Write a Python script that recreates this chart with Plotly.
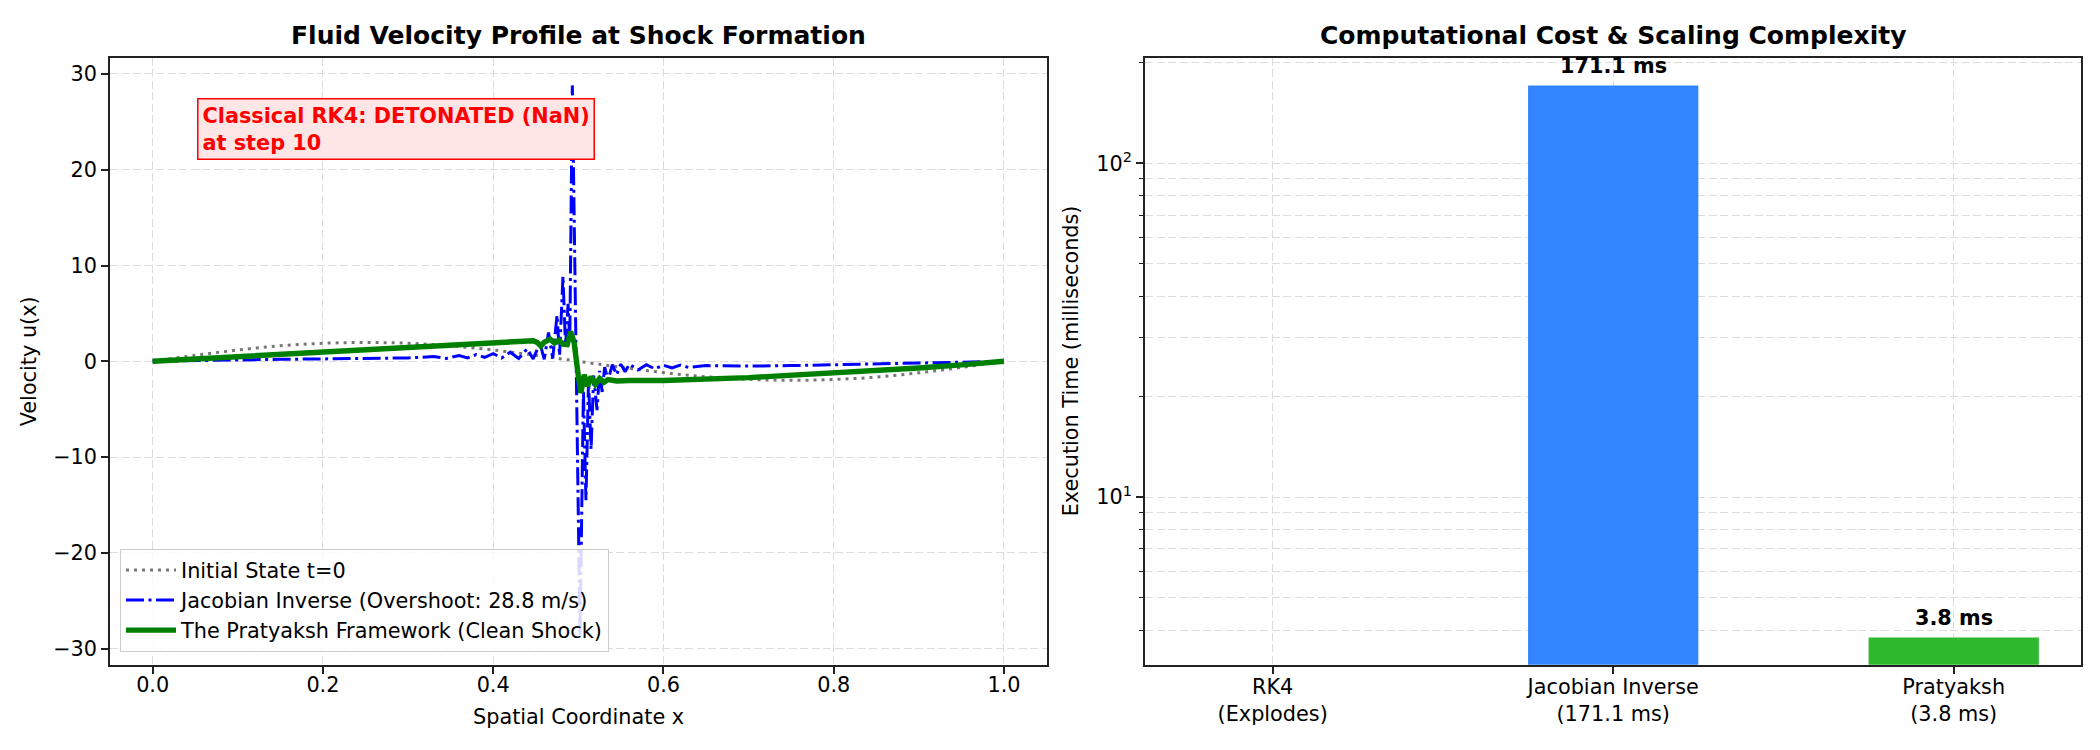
import math
import plotly.graph_objects as go

# ---------------- data ----------------
x_initial = [0.0, 0.05, 0.1, 0.15, 0.2, 0.25, 0.3, 0.35, 0.4, 0.45, 0.5,
             0.55, 0.6, 0.65, 0.7, 0.75, 0.8, 0.85, 0.9, 0.95, 1.0]
u_initial = [0.0, 0.62, 1.18, 1.62, 1.88, 1.96, 1.88, 1.62, 1.18, 0.62, 0.0,
             -0.62, -1.18, -1.62, -1.88, -1.98, -1.9, -1.65, -1.2, -0.64, 0.0]

x_jacobian = [0.0, 0.05, 0.1, 0.15, 0.2, 0.25, 0.3, 0.33, 0.345, 0.36, 0.37, 0.38,
              0.39, 0.4, 0.41, 0.42, 0.43, 0.44, 0.447, 0.455, 0.46, 0.465, 0.47,
              0.475, 0.478, 0.482, 0.485, 0.488, 0.49, 0.493, 0.497, 0.502, 0.506,
              0.509, 0.512, 0.515, 0.518, 0.522, 0.525, 0.528, 0.531, 0.535, 0.54,
              0.545, 0.55, 0.555, 0.56, 0.57, 0.58, 0.59, 0.6, 0.61, 0.62, 0.63,
              0.65, 0.7, 0.75, 0.8, 0.85, 0.9, 0.95, 1.0]
u_jacobian = [0.0, 0.08, 0.17, 0.21, 0.25, 0.3, 0.35, 0.5, 0.3, 0.6, 0.35, 0.7,
              0.4, 0.8, 0.35, 0.95, 0.3, 1.3, 0.25, 1.9, 0.2, 3.0, 0.3,
              4.8, 0.6, 8.9, 1.5, 6.0, 2.0, 28.8, 3.0, -28.8, -3.0,
              -14.5, -2.0, -9.2, -1.5, -5.1, -1.0, -3.2, -0.6, -2.0, -0.35,
              -1.4, -0.3, -1.1, -0.3, -0.9, -0.35, -0.8, -0.4, -0.7, -0.4, -0.65,
              -0.45, -0.5, -0.45, -0.35, -0.28, -0.2, -0.1, 0.0]

x_pratyaksh = [0.0, 0.1, 0.2, 0.3, 0.4, 0.43, 0.44, 0.447, 0.452, 0.456, 0.46,
               0.467, 0.472, 0.477, 0.482, 0.487, 0.491, 0.495, 0.5, 0.503, 0.507,
               0.511, 0.515, 0.52, 0.525, 0.53, 0.535, 0.545, 0.56, 0.6, 0.7,
               0.8, 0.9, 0.95, 1.0]
u_pratyaksh = [0.0, 0.49, 0.98, 1.46, 1.92, 2.0, 2.02, 2.15, 1.95, 1.6, 2.0,
               2.3, 1.9, 2.2, 1.8, 1.75, 3.1, 2.0, -1.5, -3.3, -1.4,
               -2.6, -1.6, -2.4, -1.8, -2.2, -1.9, -2.05, -2.0, -2.0, -1.7,
               -1.25, -0.7, -0.37, 0.0]

methods = ["RK4<br>(Explodes)", "Jacobian Inverse<br>(171.1 ms)", "Pratyaksh<br>(3.8 ms)"]
exec_ms = [None, 171.1, 3.8]
bar_labels = ["", "171.1 ms", "3.8 ms"]
bar_colors = ["#ff3333", "#3385ff", "#2eb82e"]

legend_names = ["Initial State t=0",
                "Jacobian Inverse (Overshoot: 28.8 m/s)",
                "The Pratyaksh Framework (Clean Shock)"]

# ---------------- figure ----------------
FONT = "DejaVu Sans"
W, H = 2100, 750
OFFX, OFFY = 8, 5  # page body margin offset compensation
GRID = "#dcdcdc"
SPINE = "#222222"
FS = 20.8
FT = 25

def px(x):
    return (x - OFFX) / W

def py(y):
    return 1 - (y - OFFY) / H

fig = go.Figure()

fig.add_trace(go.Scatter(x=x_initial, y=u_initial, mode="lines", name=legend_names[0],
                         line=dict(color="rgba(105,105,105,0.9)", width=3, dash="3px,5px",
                                   shape="spline"),
                         xaxis="x", yaxis="y"))
fig.add_trace(go.Scatter(x=x_jacobian, y=u_jacobian, mode="lines", name=legend_names[1],
                         line=dict(color="#0000ff", width=3, dash="18px,4.5px,3px,4.5px"),
                         xaxis="x", yaxis="y"))
fig.add_trace(go.Scatter(x=x_pratyaksh, y=u_pratyaksh, mode="lines", name=legend_names[2],
                         line=dict(color="#008000", width=5.4),
                         xaxis="x", yaxis="y"))

fig.add_trace(go.Bar(x=[0, 1, 2], y=exec_ms, width=0.5, marker=dict(color=bar_colors, line=dict(width=0)),
                     showlegend=False, xaxis="x2", yaxis="y2"))

axis_common = dict(showline=True, mirror=True, linecolor=SPINE, linewidth=1.7,
                   ticks="outside", ticklen=7, tickwidth=1.7, tickcolor=SPINE,
                   showgrid=True, gridcolor=GRID, gridwidth=1.4, griddash="8px,3.5px",
                   zeroline=False, tickfont=dict(family=FONT, size=FS, color="black"))

L0, L1 = px(110.1), px(1046.5)
R0, R1 = px(1145.0), px(1145.0 + 936.4)
Y0, Y1 = py(661.8), py(54.8)

fig.update_layout(
    width=W, height=H,
    margin=dict(l=0, r=0, t=0, b=0),
    paper_bgcolor="white", plot_bgcolor="white",
    font=dict(family=FONT, size=FS, color="black"),
    xaxis=dict(domain=[L0, L1], anchor="y", range=[-0.05, 1.05],
               tickmode="array", tickvals=[0, 0.2, 0.4, 0.6, 0.8, 1.0],
               ticktext=["0.0", "0.2", "0.4", "0.6", "0.8", "1.0"],
               ticklabelstandoff=-7, **axis_common),
    yaxis=dict(domain=[Y0, Y1], anchor="x", range=[-31.68, 31.68],
               tickmode="array", tickvals=[-30, -20, -10, 0, 10, 20, 30], **axis_common),
    xaxis2=dict(domain=[R0, R1], anchor="y2", range=[-0.375, 2.375],
                tickmode="array", tickvals=[0, 1, 2], ticktext=methods,
                ticklabelstandoff=-5, **axis_common),
    yaxis2=dict(domain=[Y0, Y1], anchor="x2", type="log", range=[0.498, 2.316],
                tickmode="array", tickvals=[10, 100], ticktext=["10<sup>1</sup>", "10<sup>2</sup>"],
                minor=dict(tickmode="array",
                           tickvals=[4, 5, 6, 7, 8, 9, 20, 30, 40, 50, 60, 70, 80, 90, 200],
                           ticks="outside", ticklen=4, tickwidth=1.2, tickcolor=SPINE,
                           showgrid=True, gridcolor=GRID, gridwidth=1.4, griddash="8px,3.5px"),
                **axis_common),
    legend=dict(x=px(120), y=py(649), xanchor="left", yanchor="bottom",
                bgcolor="rgba(255,255,255,0.85)", bordercolor="#cccccc", borderwidth=1,
                font=dict(family=FONT, size=FS, color="black"), tracegroupgap=0,
                itemwidth=50),
    showlegend=True,
)

annotations = [
    dict(text="<b>Fluid Velocity Profile at Shock Formation</b>", x=(L0 + L1) / 2, y=py(33),
         xref="paper", yref="paper", xanchor="center", yanchor="middle", showarrow=False,
         font=dict(family=FONT, size=FT, color="black")),
    dict(text="<b>Computational Cost &amp; Scaling Complexity</b>", x=(R0 + R1) / 2, y=py(33),
         xref="paper", yref="paper", xanchor="center", yanchor="middle", showarrow=False,
         font=dict(family=FONT, size=FT, color="black")),
    dict(text="Spatial Coordinate x", x=(L0 + L1) / 2, y=py(714),
         xref="paper", yref="paper", xanchor="center", yanchor="middle", showarrow=False,
         font=dict(family=FONT, size=FS, color="black")),
    dict(text="Velocity u(x)", x=px(29), y=(Y0 + Y1) / 2, textangle=-90,
         xref="paper", yref="paper", xanchor="center", yanchor="middle", showarrow=False,
         font=dict(family=FONT, size=FS, color="black")),
    dict(text="Execution Time (milliseconds)", x=px(1071), y=(Y0 + Y1) / 2, textangle=-90,
         xref="paper", yref="paper", xanchor="center", yanchor="middle", showarrow=False,
         font=dict(family=FONT, size=FS, color="black")),
    dict(text="<b>Classical RK4: DETONATED (NaN)<br>at step 10</b>", x=px(197), y=py(95),
         xref="paper", yref="paper", xanchor="left", yanchor="top", align="left", showarrow=False,
         font=dict(family=FONT, size=FS, color="#ff0000"),
         bgcolor="#ffe6e6", bordercolor="#ff0000", borderwidth=1.5, borderpad=4),
]
for i, (v, lab) in enumerate(zip(exec_ms, bar_labels)):
    if v is None:
        continue
    annotations.append(dict(text="<b>%s</b>" % lab, x=i, y=math.log10(v), xref="x2", yref="y2",
                            xanchor="center", yanchor="bottom", yshift=5, showarrow=False,
                            font=dict(family=FONT, size=FS, color="black")))
fig.update_layout(annotations=annotations)

fig.write_html("out.html")
